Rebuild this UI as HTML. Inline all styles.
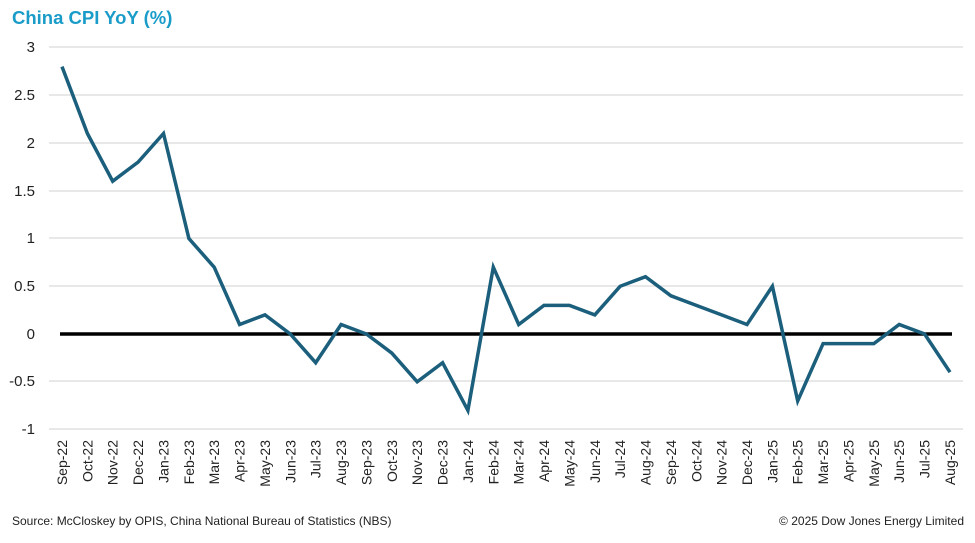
<!DOCTYPE html>
<html><head><meta charset="utf-8"><style>
body{margin:0;background:#fff;width:975px;height:538px;overflow:hidden;font-family:"Liberation Sans",Arial,sans-serif}
</style></head><body>
<svg width="975" height="538" xmlns="http://www.w3.org/2000/svg" font-family="Liberation Sans, Arial, sans-serif">
<text x="12" y="24" font-size="18.5" font-weight="bold" fill="#1a9cc9">China CPI YoY (%)</text>
<g stroke="#d9d9d9" stroke-width="1.3">
<line x1="49" x2="963" y1="47" y2="47"/><line x1="49" x2="963" y1="95" y2="95"/><line x1="49" x2="963" y1="143" y2="143"/><line x1="49" x2="963" y1="191" y2="191"/><line x1="49" x2="963" y1="238" y2="238"/><line x1="49" x2="963" y1="286" y2="286"/><line x1="49" x2="963" y1="381" y2="381"/><line x1="49" x2="963" y1="429" y2="429"/>
</g>
<g font-size="15" fill="#222" text-anchor="end">
<text x="35" y="52">3</text><text x="35" y="100">2.5</text><text x="35" y="148">2</text><text x="35" y="196">1.5</text><text x="35" y="243">1</text><text x="35" y="291">0.5</text><text x="35" y="339">0</text><text x="35" y="386">-0.5</text><text x="35" y="434">-1</text>
</g>
<line x1="60" x2="952" y1="334" y2="334" stroke="#000" stroke-width="3.5"/>
<polyline fill="none" stroke="#1b5f7c" stroke-width="3.5" stroke-linejoin="miter" points="62,66.6 87.4,133.5 112.7,181.2 138.1,162.1 163.5,133.5 188.9,238.5 214.2,267.2 239.6,324.5 265,314.9 290.3,334 315.7,362.7 341.1,324.5 366.4,334 391.8,353.1 417.2,381.8 442.6,362.7 467.9,410.4 493.3,267.2 518.7,324.5 544,305.4 569.4,305.4 594.8,314.9 620.1,286.3 645.5,276.7 670.9,295.8 696.3,305.4 721.6,314.9 747,324.5 772.4,286.3 797.7,400.9 823.1,343.6 848.5,343.6 873.8,343.6 899.2,324.5 924.6,334 950,372.2"/>
<g font-size="14" fill="#222" text-anchor="end">
<text transform="translate(67,440) rotate(-90)">Sep-22</text>
<text transform="translate(92.4,440) rotate(-90)">Oct-22</text>
<text transform="translate(117.7,440) rotate(-90)">Nov-22</text>
<text transform="translate(143.1,440) rotate(-90)">Dec-22</text>
<text transform="translate(168.5,440) rotate(-90)">Jan-23</text>
<text transform="translate(193.9,440) rotate(-90)">Feb-23</text>
<text transform="translate(219.2,440) rotate(-90)">Mar-23</text>
<text transform="translate(244.6,440) rotate(-90)">Apr-23</text>
<text transform="translate(270,440) rotate(-90)">May-23</text>
<text transform="translate(295.3,440) rotate(-90)">Jun-23</text>
<text transform="translate(320.7,440) rotate(-90)">Jul-23</text>
<text transform="translate(346.1,440) rotate(-90)">Aug-23</text>
<text transform="translate(371.4,440) rotate(-90)">Sep-23</text>
<text transform="translate(396.8,440) rotate(-90)">Oct-23</text>
<text transform="translate(422.2,440) rotate(-90)">Nov-23</text>
<text transform="translate(447.6,440) rotate(-90)">Dec-23</text>
<text transform="translate(472.9,440) rotate(-90)">Jan-24</text>
<text transform="translate(498.3,440) rotate(-90)">Feb-24</text>
<text transform="translate(523.7,440) rotate(-90)">Mar-24</text>
<text transform="translate(549,440) rotate(-90)">Apr-24</text>
<text transform="translate(574.4,440) rotate(-90)">May-24</text>
<text transform="translate(599.8,440) rotate(-90)">Jun-24</text>
<text transform="translate(625.1,440) rotate(-90)">Jul-24</text>
<text transform="translate(650.5,440) rotate(-90)">Aug-24</text>
<text transform="translate(675.9,440) rotate(-90)">Sep-24</text>
<text transform="translate(701.3,440) rotate(-90)">Oct-24</text>
<text transform="translate(726.6,440) rotate(-90)">Nov-24</text>
<text transform="translate(752,440) rotate(-90)">Dec-24</text>
<text transform="translate(777.4,440) rotate(-90)">Jan-25</text>
<text transform="translate(802.7,440) rotate(-90)">Feb-25</text>
<text transform="translate(828.1,440) rotate(-90)">Mar-25</text>
<text transform="translate(853.5,440) rotate(-90)">Apr-25</text>
<text transform="translate(878.8,440) rotate(-90)">May-25</text>
<text transform="translate(904.2,440) rotate(-90)">Jun-25</text>
<text transform="translate(929.6,440) rotate(-90)">Jul-25</text>
<text transform="translate(955,440) rotate(-90)">Aug-25</text>
</g>
<text x="12" y="525" font-size="12" fill="#222">Source: McCloskey by OPIS, China National Bureau of Statistics (NBS)</text>
<text x="964" y="525" font-size="12" fill="#222" text-anchor="end">© 2025 Dow Jones Energy Limited</text>
</svg>
</body></html>
